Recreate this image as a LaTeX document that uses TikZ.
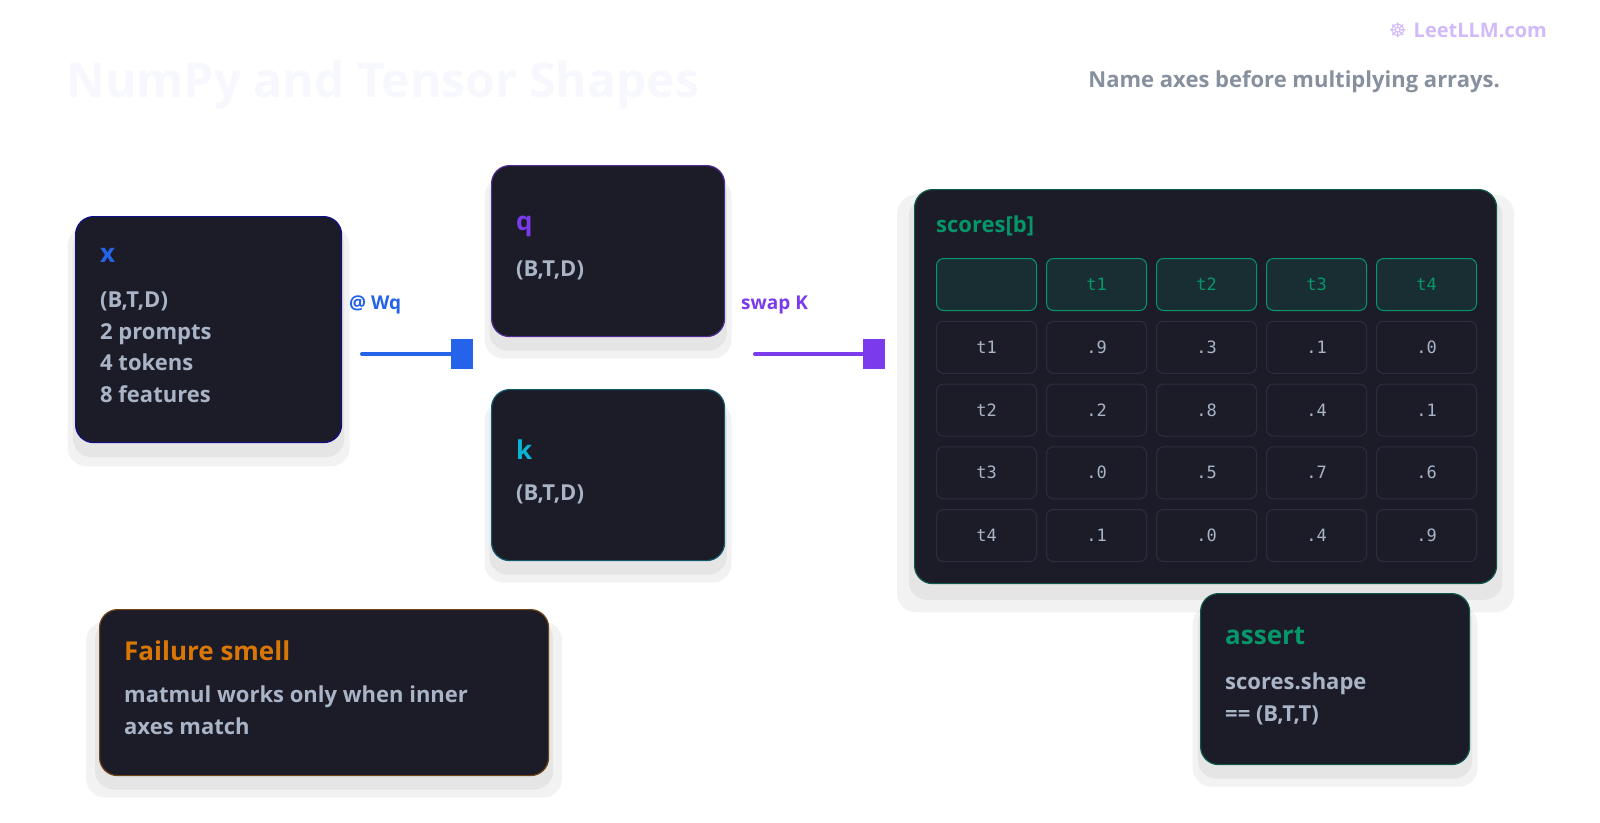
\documentclass[tikz,border=0pt]{standalone}
\usepackage{fontspec}
\setmainfont{Open Sans}
\setmonofont{DejaVu Sans Mono}
\usetikzlibrary{positioning,shadows}
\definecolor{panel}{HTML}{1C1C28}
\definecolor{txt}{HTML}{A9B4C6}
\definecolor{blu}{HTML}{2563EB}
\definecolor{pur}{HTML}{7C3AED}
\definecolor{cya}{HTML}{06B6D4}
\definecolor{grn}{HTML}{059669}
\definecolor{org}{HTML}{D97706}
\definecolor{cellline}{HTML}{2A2F3F}
\tikzset{
  card/.style={draw=#1, line width=1.2pt, fill=panel, rounded corners=18pt, anchor=north west, inner sep=0pt,
    general shadow={fill=black, opacity=0.05, shadow xshift=0pt, shadow yshift=-16pt, shadow scale=1.06},
    general shadow={fill=black, opacity=0.05, shadow xshift=0pt, shadow yshift=-12pt, shadow scale=1.02}},
  head/.style={anchor=north west, font=\fontsize{26}{30}\selectfont\bfseries, text=#1, inner sep=0pt},
  body/.style={anchor=north west, font=\fontsize{22}{31.5}\selectfont\bfseries, text=txt, inner sep=0pt, align=left},
  cell/.style={draw=cellline, line width=1pt, rounded corners=7pt, minimum width=100pt, minimum height=52pt,
    anchor=north west, font=\ttfamily\fontsize{17}{20}\selectfont, text=txt, inner sep=0pt},
  hcell/.style={cell, draw=grn, fill=grn!15!panel, text=grn},
  wire/.style={line width=4pt, line cap=round, draw=#1},
  tip/.style={fill=#1, minimum width=22pt, minimum height=30pt, inner sep=0pt}
}
\begin{document}
\begin{tikzpicture}[x=1pt, y=-1pt]
\useasboundingbox[fill=white] (0,0) rectangle (1600,822);

% header
\node[anchor=west, text=black!6!blue!3!white, font=\fontsize{48}{52}\selectfont\bfseries, inner sep=0pt] (title) at (66,85) {NumPy and Tensor Shapes};
\node[anchor=east, text=txt!80!black, font=\fontsize{22}{26}\selectfont\bfseries, inner sep=0pt] (sub) at (1500,82) {Name axes before multiplying arrays.};
\node[anchor=east, text=pur!35!white, font=\fontsize{20}{24}\selectfont\bfseries, inner sep=0pt] (logo) at (1547,30) {\fontspec{DejaVu Sans}☸\ \fontspec{Open Sans}LeetLLM.com};

% cards
\node[card=blue!45!panel, minimum width=266pt, minimum height=226pt] (x) at (75,216) {};
\node[head=blu] (xh) at (100,248) {x};
\node[body] (xb) at (100,292) {(B,T,D)\\2 prompts\\4 tokens\\8 features};

\node[card=pur!55!panel, minimum width=233pt, minimum height=171pt] (q) at (491,165) {};
\node[head=pur] (qh) at (516,216) {q};
\node[body] (qb) at (516,261) {(B,T,D)};

\node[card=cya!40!panel, minimum width=233pt, minimum height=171pt] (k) at (491,389) {};
\node[head=cya] (kh) at (516,440) {k};
\node[body] (kb) at (516,485) {(B,T,D)};

\node[card=grn!50!panel, minimum width=582pt, minimum height=394pt] (scores) at (914,189) {};
\node[head=grn, font=\fontsize{22}{26}\selectfont\bfseries] (sh) at (936,216) {scores[b]};

\node[card=org!45!panel, minimum width=449pt, minimum height=166pt] (fail) at (99,609) {};
\node[head=org] (fh) at (124,641) {Failure smell};
\node[body] (fb) at (124,686) {matmul works only when inner\\axes match};

\node[card=grn!50!panel, minimum width=269pt, minimum height=171pt] (assert) at (1200,593) {};
\node[head=grn] (ah) at (1225,627) {assert};
\node[body] (ab) at (1225,673) {scores.shape\\== (B,T,T)};

% connectors
\coordinate (w0) at (362,354);
\node[tip=blu] (w1) at (462,354) {};
\draw[wire=blu] (w0) -- (w1.west);
\node[anchor=west, text=blu, font=\fontsize{19}{22}\selectfont\bfseries, inner sep=0pt] (wl) at (349,305) {@ Wq};
\coordinate (s0) at (755,354);
\node[tip=pur] (s1) at (874,354) {};
\draw[wire=pur] (s0) -- (s1.west);
\node[anchor=west, text=pur, font=\fontsize{19}{22}\selectfont\bfseries, inner sep=0pt] (sl) at (741,305) {swap K};

% table
\node[hcell] (h0) at (936,258) {};
\foreach \c/\t in {1/t1,2/t2,3/t3,4/t4}
  \node[hcell] (h\c) at (936+110*\c,258) {\t};
\foreach \r/\a/\b/\cc/\d [count=\i] in {t1/.9/.3/.1/.0, t2/.2/.8/.4/.1, t3/.0/.5/.7/.6, t4/.1/.0/.4/.9}{
  \node[cell] (r\i c0) at (936,258+62.75*\i) {\r};
  \node[cell] (r\i c1) at (1046,258+62.75*\i) {\a};
  \node[cell] (r\i c2) at (1156,258+62.75*\i) {\b};
  \node[cell] (r\i c3) at (1266,258+62.75*\i) {\cc};
  \node[cell] (r\i c4) at (1376,258+62.75*\i) {\d};
}
\end{tikzpicture}
\end{document}
